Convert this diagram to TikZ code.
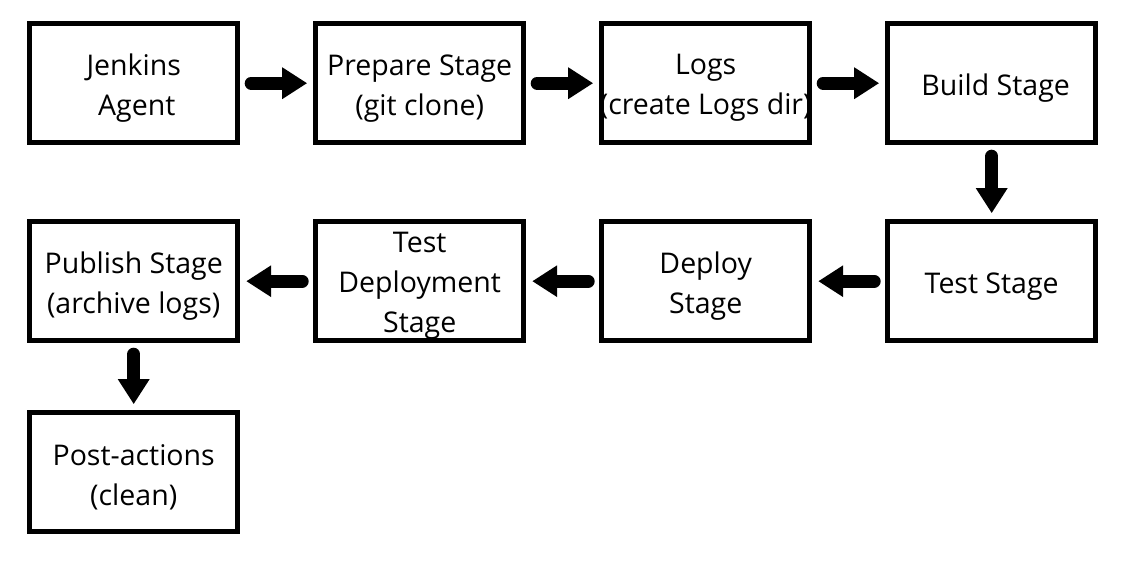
\documentclass[tikz,border=0pt]{standalone}
\usepackage{fontspec}
\setmainfont{Open Sans}
\usetikzlibrary{arrows.meta}
\usetikzlibrary{positioning}
\usetikzlibrary{matrix}
\newcommand{\stagenode}[2]{\node(#1)[stagebox,label={[stagetext,name=#1-text]center:{#2}}]{}}

\begin{document}
\begin{tikzpicture}[
        x=1pt,y=1pt,
        every node/.style={font=\fontsize{28.5}{40}\selectfont},
        stagebox/.style={rectangle,minimum width=208pt,minimum height=119pt,
                     line width=5pt,draw=black,inner sep=0pt},
        stagetext/.style={align=center,inner sep=0pt,yshift=-5pt},
        flow/.style={line width=13pt,line cap=round,
                     -{Triangle[length=25pt,width=30pt]},
                     shorten <=11pt,shorten >=6pt}
      ]
      \useasboundingbox (0,0) rectangle (1125,-567);

      % The stages are laid out in a matrix
      % \\ delimits the rows while & delimits the columns
      \matrix[row sep=67pt, column sep=73pt, anchor=north west, inner sep=0pt] at (27,-21) {
        % Row 1: agent, prepare, logs, build
        \stagenode{agent}{Jenkins\\\hspace{6pt}Agent}; & \stagenode{prepare}{Prepare Stage\\(git clone)}; &
        \stagenode{logs}{Logs\\(create Logs dir)}; & \stagenode{build}{\hspace{8pt}Build Stage};\\[7pt]

        % Row 2: publish, test deployment, deploy, test
        \stagenode{publish}{Publish Stage\\(archive logs)}; & \stagenode{testdeploy}{Test\\Deployment\\Stage}; &
        \stagenode{deploy}{Deploy\\Stage}; & \stagenode{test}{Test Stage};\\

        % Row 3: post-actions
        \stagenode{post}{Post-actions\\(clean)}; & & & \\
      };

      % Arrows from stage to stage
      \draw[flow] (agent) -- (prepare);
      \draw[flow] (prepare) -- (logs);
      \draw[flow] (logs) -- (build);
      \draw[flow] (build) -- (test);
      \draw[flow] (test) -- (deploy);
      \draw[flow] (deploy) -- (testdeploy);
      \draw[flow] (testdeploy) -- (publish);
      \draw[flow] (publish) -- (post);
    \end{tikzpicture}
\end{document}
